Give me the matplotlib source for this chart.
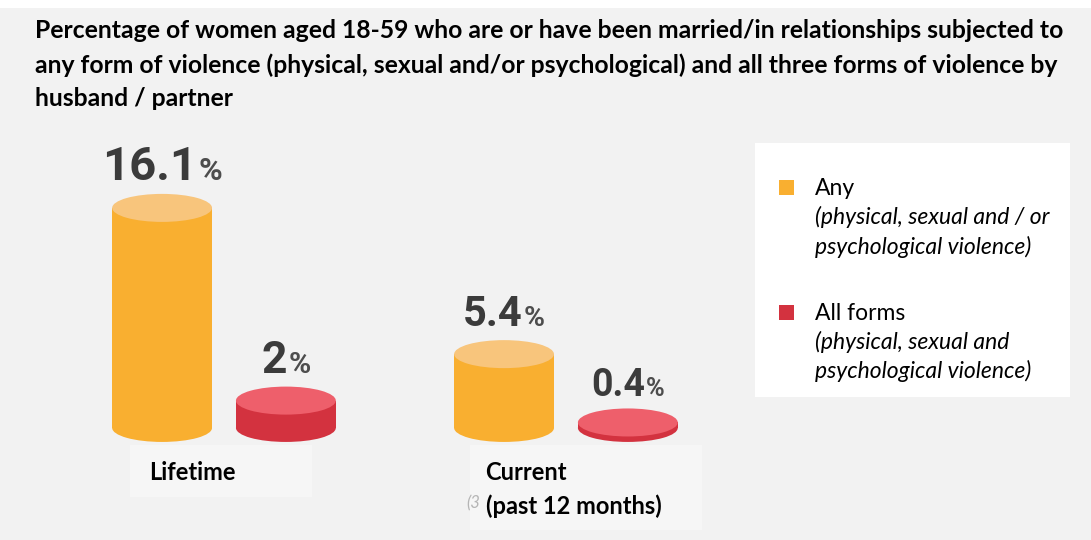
import matplotlib
matplotlib.use("Agg")
import matplotlib.pyplot as plt
from matplotlib.patches import Rectangle, Ellipse
from matplotlib.offsetbox import TextArea, HPacker, AnnotationBbox

# data
groups = ["Lifetime", "Current\n(past 12 months)"]
series = ["Any", "All forms"]
series_notes = [["(physical, sexual and / or", "psychological violence)"],
                ["(physical, sexual and", "psychological violence)"]]
values = [[16.1, 5.4],   # Any
          [2.0, 0.4]]    # All forms
value_labels = [["16.1", "5.4"], ["2", "0.4"]]

title = ("Percentage of women aged 18-59 who are or have been married/in relationships subjected to\n"
         "any form of violence (physical, sexual and/or psychological) and all three forms of violence by\n"
         "husband / partner")

body_colors = ["#F9AF30", "#D3323F"]
top_colors = ["#F8C57C", "#EE5F6B"]
label_sizes = [[34, 30], [32, 27]]

W, H = 1091, 540
fig = plt.figure(figsize=(W / 100, H / 100), dpi=100)
fig.patch.set_facecolor("#f2f2f2")


def fx(x):
    return x / W


def fy(y):
    return 1 - y / H


def bg_rect(x0, y0, x1, y1, color):
    fig.patches.append(Rectangle((fx(x0), fy(y1)), (x1 - x0) / W, (y1 - y0) / H,
                                 transform=fig.transFigure, facecolor=color,
                                 edgecolor="none", zorder=-5))


# background pieces
bg_rect(0, 0, W, 8, "white")
bg_rect(130, 445, 312, 497, "#f6f6f6")
bg_rect(470, 445, 702, 530, "#f6f6f6")
bg_rect(755, 143, 1070, 397, "white")

fig.text(fx(35), fy(19), title, ha="left", va="top", fontsize=17.8,
         fontweight="bold", family="Lato", color="black", linespacing=1.56)

ax = fig.add_axes([0, 0, 740 / W, 410 / H])
ax.patch.set_visible(False)
ax.axis("off")
ax.set_xlim(-0.655, 1.509)
ax.set_ylim(-8.2, 21.8)

bar_w = 0.292
offset = 0.181
ell_h = 2.05

for s in range(len(series)):
    for g in range(len(groups)):
        v = values[s][g]
        x = g + (offset if s else -offset)
        ax.add_patch(Ellipse((x, 0), bar_w, ell_h, facecolor=body_colors[s],
                             edgecolor="none", zorder=2))
        ax.add_patch(Rectangle((x - bar_w / 2, 0), bar_w, v, facecolor=body_colors[s],
                               edgecolor="none", zorder=2))
        ax.add_patch(Ellipse((x, v), bar_w, ell_h, facecolor=top_colors[s],
                             edgecolor="none", zorder=3))
        fs = label_sizes[s][g]
        num = TextArea(value_labels[s][g],
                       textprops=dict(fontsize=fs, fontweight="bold",
                                      family="Roboto", color="#3b3b3b"))
        pct = TextArea("%", textprops=dict(fontsize=fs * 0.68, fontweight="bold",
                                           family="Roboto", color="#4d4d4d"))
        box = HPacker(children=[num, pct], align="baseline", pad=0, sep=1)
        ab = AnnotationBbox(box, (x, v + ell_h / 2 + 0.35), box_alignment=(0.5, 0),
                            frameon=False, pad=0, zorder=4)
        ax.add_artist(ab)

label_dx = [-0.22, -0.235]
for g, name in enumerate(groups):
    ax.text(g + label_dx[g], -2.45, name, ha="left", va="top", fontsize=17,
            fontweight="bold", family="Lato", color="black", linespacing=1.5)

ax.text(1 - 0.29, -4.9, "(3", ha="left", va="top", fontsize=12, style="italic",
        color="#b5b5b5", family="Lato")

# legend
legend_y = [180, 305]
for s in range(len(series)):
    y0 = legend_y[s]
    fig.patches.append(Rectangle((fx(779), fy(y0 + 15)), 15 / W, 15 / H,
                                 transform=fig.transFigure,
                                 facecolor=body_colors[s], edgecolor="none"))
    fig.text(fx(815), fy(y0 + 15), series[s], ha="left", va="baseline",
             fontsize=16.5, family="Lato", color="black")
    for i, line in enumerate(series_notes[s]):
        fig.text(fx(815), fy(y0 + 44 + 29.5 * i), line, ha="left", va="baseline",
                 fontsize=16.5, family="Lato", style="italic", color="black")

fig.savefig("out.png", dpi=100, facecolor=fig.get_facecolor())
